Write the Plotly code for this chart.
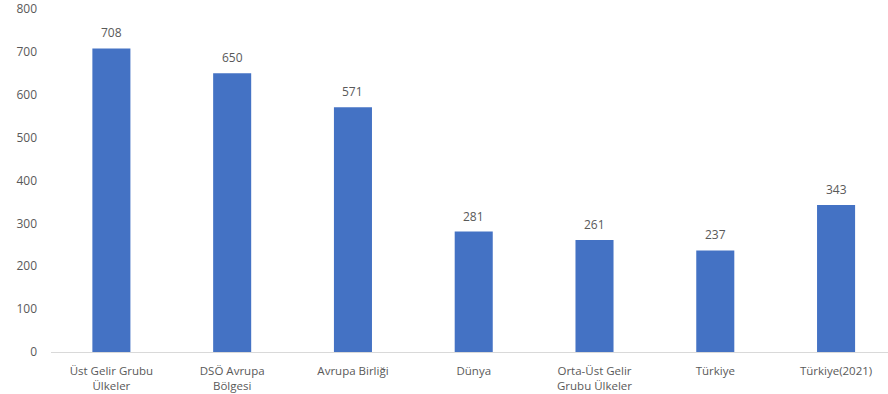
import plotly.graph_objects as go

categories = [
    "Üst Gelir Grubu<br>Ülkeler",
    "DSÖ Avrupa<br>Bölgesi",
    "Avrupa Birliği",
    "Dünya",
    "Orta-Üst Gelir<br>Grubu Ülkeler",
    "Türkiye",
    "Türkiye(2021)",
]
values = [708, 650, 571, 281, 261, 237, 343]
y_ticks = [0, 100, 200, 300, 400, 500, 600, 700, 800]

font_family = "Open Sans, Liberation Sans, sans-serif"
text_color = "#595959"

fig = go.Figure(
    go.Bar(
        x=list(range(len(categories))),
        y=values,
        marker=dict(color="#4472C4", line=dict(width=0)),
        width=0.315,
        hoverinfo="skip",
    )
)

for i, v in enumerate(values):
    fig.add_annotation(
        x=i, y=v, text=str(v), showarrow=False,
        yanchor="bottom", yshift=5,
        font=dict(family=font_family, size=12, color=text_color),
    )

fig.update_layout(
    width=888, height=394,
    margin=dict(l=51, r=0, t=9, b=42),
    paper_bgcolor="white", plot_bgcolor="white",
    showlegend=False,
    font=dict(family=font_family, size=12, color=text_color),
)
fig.update_xaxes(
    tickmode="array",
    tickvals=list(range(len(categories))),
    ticktext=categories,
    range=[-0.5, 6.43],
    showline=True, linecolor="#d9d9d9", linewidth=1,
    showgrid=False, zeroline=False, ticks="",
    ticklabelstandoff=8,
    tickfont=dict(size=11.5, color=text_color),
)
fig.update_yaxes(
    range=[0, 800],
    tickmode="array", tickvals=y_ticks,
    showgrid=False, zeroline=False, showline=False, ticks="",
    ticklabelstandoff=13,
    tickfont=dict(size=12, color=text_color),
)

fig.write_html("out.html")
